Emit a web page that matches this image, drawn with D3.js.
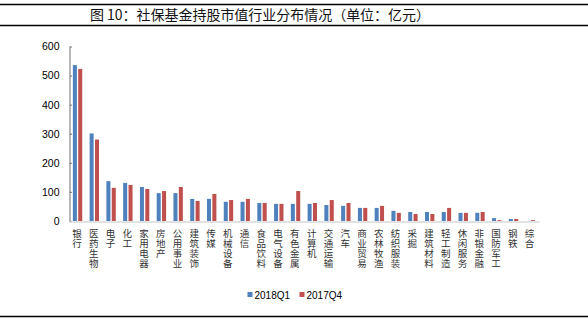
<!DOCTYPE html>
<html>
<head>
<meta charset="utf-8">
<script src="https://cdn.jsdelivr.net/npm/d3@7/dist/d3.min.js"></script>
<style>
  html, body { margin: 0; padding: 0; background: #fff; }
  svg { display: block; }
  .vlabel { writing-mode: vertical-rl; text-orientation: upright; }
</style>
</head>
<body>
<svg id="chart" width="588" height="324"></svg>
<script>
// Industry categories (SSF holdings by sector)
const categories = ["银行","医药生物","电子","化工","家用电器","房地产","公用事业","建筑装饰","传媒","机械设备",
  "通信","食品饮料","电气设备","有色金属","计算机","交通运输","汽车","商业贸易","农林牧渔","纺织服装",
  "采掘","建筑材料","轻工制造","休闲服务","非银金融","国防军工","钢铁","综合"];

// Market value of holdings, 100 million yuan
const values2018Q1 = [536, 301, 137, 131, 117, 96, 96, 76, 76, 66,
  66, 62, 59, 59, 59, 55, 52, 45, 45, 35,
  31, 31, 31, 28, 28, 10, 7, 0];
const values2017Q4 = [523, 280, 114, 124, 110, 103, 117, 69, 93, 72,
  76, 62, 59, 103, 62, 72, 62, 45, 52, 28,
  24, 24, 45, 28, 31, 3, 7, 3];

const seriesNames = ["2018Q1", "2017Q4"];
const seriesColors = ["#4F81BD", "#C0504D"];
const yTicks = [0, 100, 200, 300, 400, 500, 600];
const titleText = "图 10：社保基金持股市值行业分布情况（单位：亿元）";

const svg = d3.select("#chart");
const W = 588;
const cjk = "'Noto Sans CJK SC', 'Noto Sans', sans-serif";
const latin = "'Liberation Sans', Arial, sans-serif";

// Title band with rules above and below
svg.append("line").attr("x1", 0).attr("x2", W).attr("y1", 4.5).attr("y2", 4.5)
  .attr("stroke", "#000").attr("stroke-width", 1.5);
svg.append("line").attr("x1", 0).attr("x2", W).attr("y1", 25.5).attr("y2", 25.5)
  .attr("stroke", "#000").attr("stroke-width", 1.5);
svg.append("line").attr("x1", 0).attr("x2", W).attr("y1", 316.5).attr("y2", 316.5)
  .attr("stroke", "#000").attr("stroke-width", 1.5);
svg.append("text").attr("x", 260).attr("y", 20).attr("text-anchor", "middle")
  .attr("font-family", cjk).attr("font-size", 14).attr("fill", "#111")
  .attr("textLength", 340).attr("lengthAdjust", "spacing")
  .text(titleText);

// Plot area
const plotLeft = 69.5, plotRight = 539, plotTop = 46.5, plotBottom = 221;

const x = d3.scaleBand().domain(categories).range([plotLeft, plotRight]).paddingInner(0).paddingOuter(0);
const bw = x.bandwidth();
const x1 = d3.scaleBand().domain(seriesNames).range([bw * 0.2, bw * 0.76]).paddingInner(0.25);
const y = d3.scaleLinear().domain([0, 600]).range([plotBottom, plotTop]);

// Bars
const seriesData = [values2018Q1, values2017Q4];
seriesNames.forEach((name, si) => {
  svg.append("g").selectAll("rect")
    .data(categories.map((c, i) => ({ c, v: seriesData[si][i] })))
    .join("rect")
    .attr("x", d => x(d.c) + x1(name))
    .attr("width", x1.bandwidth())
    .attr("y", d => y(d.v))
    .attr("height", d => plotBottom - y(d.v))
    .attr("fill", seriesColors[si]);
});

// Y axis: ticks point into the plot
const yAxis = d3.axisLeft(y).tickValues(yTicks).tickSizeInner(-2.5).tickSizeOuter(0).tickPadding(10);
const gy = svg.append("g").attr("transform", `translate(${plotLeft},0)`).call(yAxis);
gy.select(".domain").attr("stroke", "#868686").attr("stroke-width", 1.2);
gy.selectAll(".tick line").attr("stroke", "#868686").attr("stroke-width", 1.2);
gy.selectAll(".tick text").attr("font-family", latin).attr("font-size", 10.5).attr("fill", "#000");

// X axis baseline
const xAxis = d3.axisBottom(x).tickSize(0).tickFormat("");
const gx = svg.append("g").attr("transform", `translate(0,${plotBottom + 0.5})`).call(xAxis);
gx.select(".domain").attr("stroke", "#d9d9d9").attr("stroke-width", 1.5);

// Vertical category labels, characters stacked top to bottom
svg.append("g").selectAll("text").data(categories).join("text")
  .attr("class", "vlabel")
  .attr("x", c => x(c) + bw / 2 - 1)
  .attr("y", 229)
  .attr("font-family", cjk).attr("font-size", 9.5).attr("letter-spacing", 0.5)
  .attr("fill", "#333")
  .text(c => c);

// Legend
const legend = svg.append("g");
const legendX = [247.5, 299.5];
seriesNames.forEach((name, si) => {
  legend.append("rect").attr("x", legendX[si]).attr("y", 292).attr("width", 5).attr("height", 5)
    .attr("fill", seriesColors[si]);
  legend.append("text").attr("x", legendX[si] + 7).attr("y", 298.5)
    .attr("font-family", latin).attr("font-size", 10).attr("fill", "#000").text(name);
});
</script>
</body>
</html>
